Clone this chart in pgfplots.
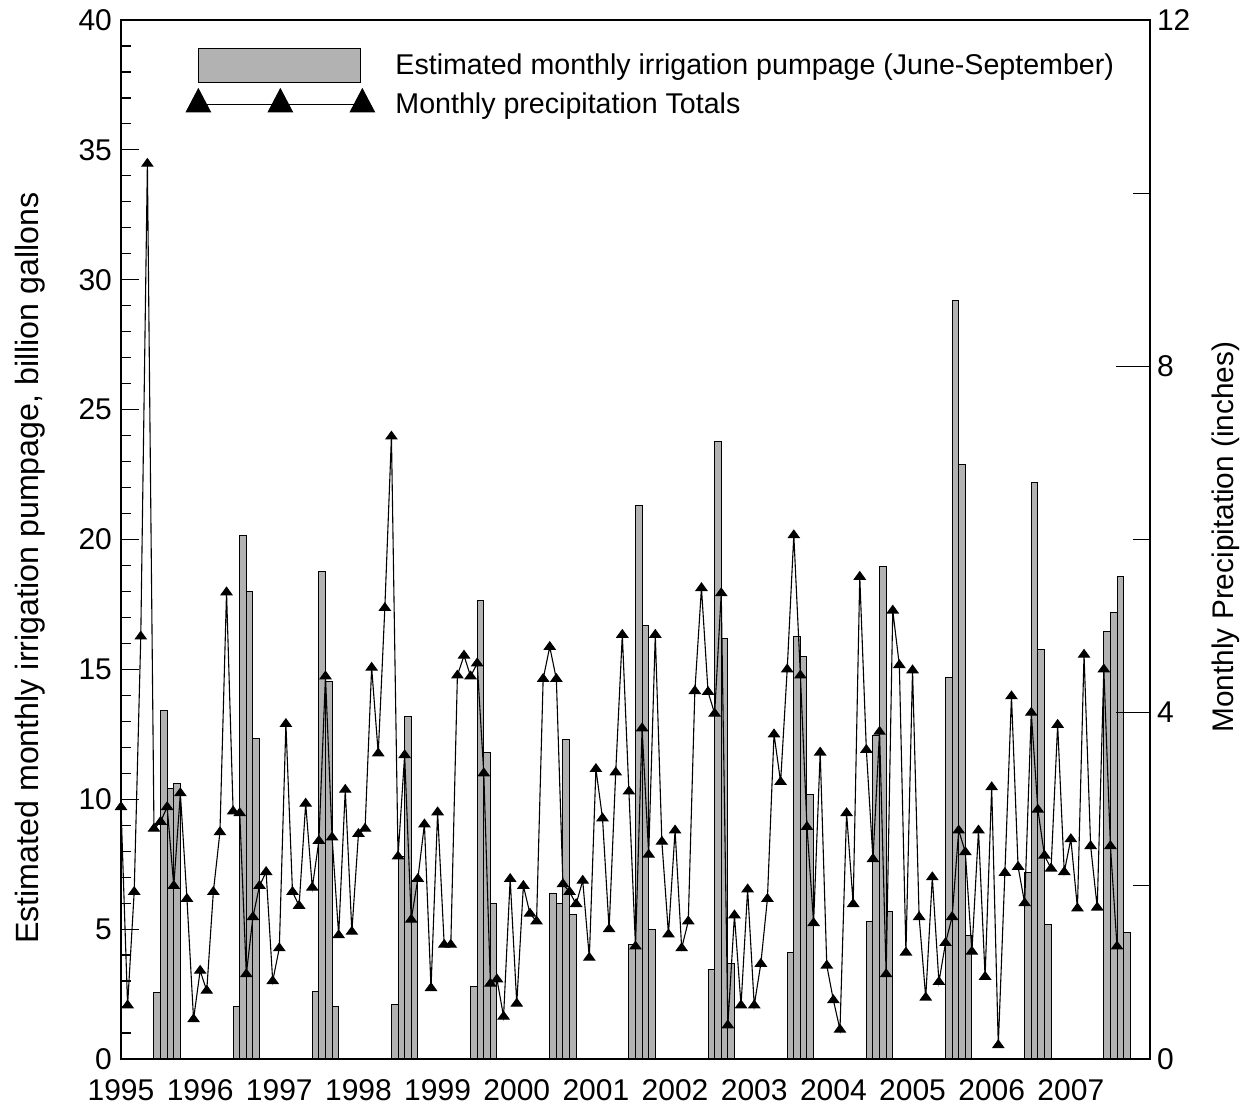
\documentclass[border=0pt]{standalone}
\usepackage{pgfplots}
\pgfplotsset{compat=1.18}
\usepackage{pgfplotstable}
\usepackage{fontspec}
\setmainfont{Liberation Sans}

\pgfplotstableread{
x y
5.5 2.57
6.5 13.43
7.5 10.42
8.5 10.61
17.5 2.01
18.5 20.17
19.5 18.0
20.5 12.34
29.5 2.59
30.5 18.78
31.5 14.54
32.5 2.01
41.5 2.08
42.5 7.79
43.5 13.18
44.5 6.89
53.5 2.78
54.5 17.67
55.5 11.79
56.5 5.99
65.5 6.38
66.5 5.99
67.5 12.29
68.5 5.58
77.5 4.39
78.5 21.31
79.5 16.68
80.5 4.99
89.5 3.43
90.5 23.78
91.5 16.19
92.5 3.68
101.5 4.09
102.5 16.28
103.5 15.48
104.5 10.2
113.5 5.29
114.5 12.47
115.5 18.97
116.5 5.67
125.5 14.69
126.5 29.19
127.5 22.89
128.5 4.77
137.5 7.19
138.5 22.18
139.5 15.77
140.5 5.18
149.5 16.47
150.5 17.18
151.5 18.59
152.5 4.88
}\pumpage

\pgfplotstableread{
x y
0 2.91
1 0.62
2 1.93
3 4.88
4 10.34
5 2.66
6 2.74
7 2.91
8 2.00
9 3.07
10 1.85
11 0.46
12 1.02
13 0.79
14 1.93
15 2.62
16 5.39
17 2.86
18 2.84
19 0.98
20 1.64
21 2.00
22 2.16
23 0.90
24 1.28
25 3.87
26 1.93
27 1.77
28 2.95
29 1.98
30 2.52
31 4.42
32 2.56
33 1.43
34 3.11
35 1.47
36 2.60
37 2.66
38 4.52
39 3.53
40 5.21
41 7.19
42 2.34
43 3.51
44 1.61
45 2.08
46 2.71
47 0.82
48 2.85
49 1.32
50 1.32
51 4.43
52 4.66
53 4.42
54 4.57
55 3.30
56 0.87
57 0.92
58 0.49
59 2.08
60 0.64
61 2.00
62 1.68
63 1.59
64 4.39
65 4.76
66 4.39
67 2.02
68 1.93
69 1.79
70 2.06
71 1.17
72 3.35
73 2.78
74 1.50
75 3.31
76 4.90
77 3.09
78 1.30
79 3.82
80 2.36
81 4.90
82 2.51
83 1.44
84 2.64
85 1.28
86 1.59
87 4.25
88 5.44
89 4.24
90 3.99
91 5.38
92 0.39
93 1.66
94 0.62
95 1.96
96 0.62
97 1.10
98 1.85
99 3.75
100 3.20
101 4.50
102 6.05
103 4.43
104 2.68
105 1.57
106 3.54
107 1.08
108 0.68
109 0.34
110 2.84
111 1.79
112 5.57
113 3.57
114 2.31
115 3.78
116 0.98
117 5.18
118 4.55
119 1.23
120 4.49
121 1.64
122 0.71
123 2.10
124 0.89
125 1.34
126 1.64
127 2.64
128 2.39
129 1.24
130 2.64
131 0.95
132 3.14
133 0.16
134 2.15
135 4.19
136 2.22
137 1.80
138 4.00
139 2.88
140 2.35
141 2.20
142 3.86
143 2.16
144 2.54
145 1.74
146 4.67
147 2.46
148 1.75
149 4.50
150 2.46
151 1.30
}\precip

\begin{document}
\begin{tikzpicture}
\begin{axis}[
  at={(0,0)}, anchor=south west,
  scale only axis, width=514.5pt, height=519.5pt,
  xmin=0, xmax=156, ymin=0, ymax=40,
  xtick={0,12,24,36,48,60,72,84,96,108,120,132,144},
  xticklabels={1995,1996,1997,1998,1999,2000,2001,2002,2003,2004,2005,2006,2007},
  ytick={0,5,...,40}, minor y tick num=4,
  ytick pos=left, xtick pos=bottom,
  tick align=inside,
  major tick length=9pt, minor tick length=5pt,
  x tick style={draw=none},
  tick style={black, line width=0.6pt},
  axis line style={black, line width=0.8pt},
  /pgf/number format/assume math mode=true,
  ticklabel style={font=\fontsize{15}{15}\selectfont},
  yticklabel style={xshift=-1pt},
  xticklabel style={yshift=-6.5pt},
  ylabel={Estimated monthly irrigation pumpage, billion gallons},
  every axis y label/.style={at={(axis description cs:-0.0884,0.4726)}, rotate=90, anchor=center, font=\fontsize{16.1}{17}\selectfont},
  clip=false,
]
\addplot[ybar, bar width=1, fill=gray!60, draw=black, line width=0.5pt] table {\pumpage};
\end{axis}
\begin{axis}[
  at={(0,0)}, anchor=south west,
  scale only axis, width=514.5pt, height=519.5pt,
  xmin=0, xmax=156, ymin=0, ymax=12,
  axis x line=none, axis y line*=right,
  ytick={0,4,8,12}, minor ytick={2,6,10},
  tick align=inside,
  major tick length=17pt, minor tick length=8.5pt,
  tick style={black, line width=0.6pt},
  axis line style={black, line width=0.8pt},
  /pgf/number format/assume math mode=true,
  ticklabel style={font=\fontsize{15}{15}\selectfont},
  ylabel={Monthly Precipitation (inches)},
  every axis y label/.style={at={(axis description cs:1.0739,0.5024)}, rotate=90, anchor=center, font=\fontsize{14.9}{15}\selectfont},
  legend style={draw=none, fill=none, at={(axis description cs:0.063,0.973)}, anchor=north west,
    inner sep=0pt, row sep=2.5pt, column sep=8.5pt, font=\fontsize{14.3}{17}\selectfont},
  legend cell align=left,
  clip=false,
]
\addlegendimage{legend image code/.code={\draw[fill=gray!60, draw=black, line width=0.5pt] (0pt,-8.5pt) rectangle (81pt,8.5pt);}}
\addlegendentry{Estimated monthly irrigation pumpage (June-September)}
\addplot[black, line width=0.55pt, mark=triangle*, mark size=3.1pt, mark options={solid, yscale=0.8},
  legend image code/.code={\draw[black, line width=0.5pt, mark=triangle*, mark size=7pt, mark options={solid, yscale=1.1}] plot coordinates {(0pt,0pt) (41pt,0pt) (82pt,0pt)};}
] table {\precip};
\addlegendentry{Monthly precipitation Totals}
\end{axis}
\pgfresetboundingbox
\path[use as bounding box] (-60.5pt,-27pt) rectangle (561.5pt,529.5pt);
\end{tikzpicture}
\end{document}
